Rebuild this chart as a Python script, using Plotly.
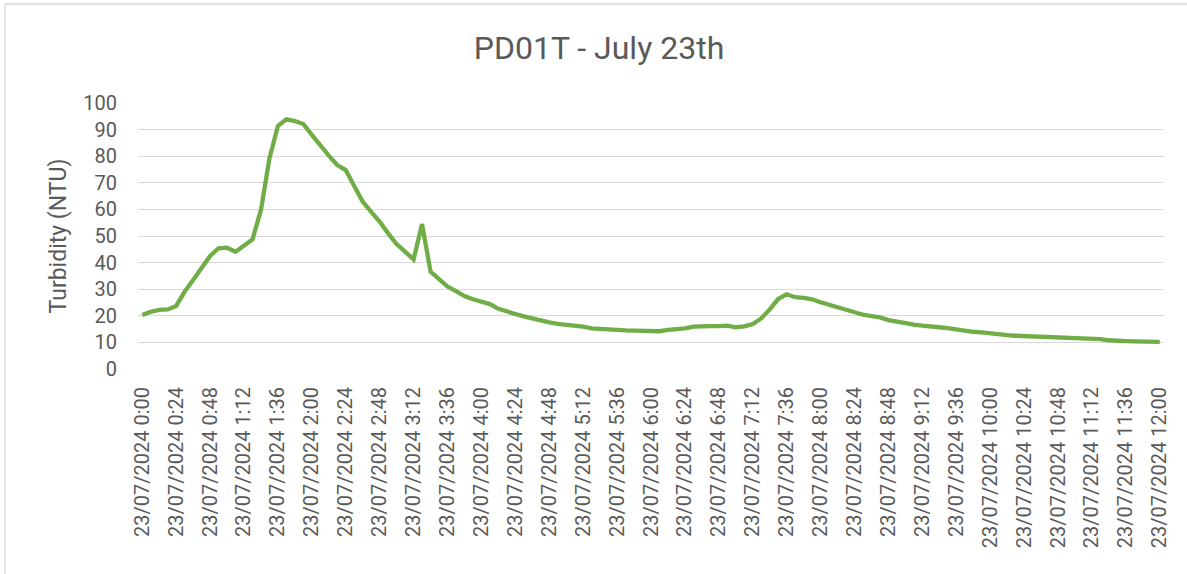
import plotly.graph_objects as go
from datetime import datetime, timedelta

# ---- data ----
start_time = datetime(2024, 7, 23, 0, 0)
step_minutes = 6
turbidity_ntu = [
    20.3, 21.5, 22.2, 22.4, 23.7, 29.1, 33.5, 38.1, 42.5, 45.4,
    45.6, 44.1, 46.4, 48.7, 59.8, 79.2, 91.4, 93.9, 93.2, 92.1,
    88.0, 83.8, 80.2, 76.7, 74.8, 68.8, 62.9, 59.1, 55.4, 51.0,
    47.0, 44.1, 41.2, 54.5, 36.6, 33.8, 31.0, 29.3, 27.4, 26.2,
    25.3, 24.4, 22.6, 21.5, 20.7, 19.8, 18.9, 18.2, 17.5, 17.0,
    16.7, 16.3, 15.9, 15.3, 15.0, 15.0, 14.8, 14.5, 14.4, 14.4,
    14.3, 14.2, 14.7, 14.9, 15.3, 15.9, 16.2, 16.1, 16.1, 16.3,
    15.7, 16.0, 16.9, 19.0, 22.4, 26.3, 28.1, 27.0, 26.7, 26.2,
    25.1, 24.1, 23.4, 22.4, 21.3, 20.4, 19.9, 19.4, 18.4, 17.7,
    17.0, 16.7, 16.3, 15.8, 15.7, 15.4, 14.8, 14.3, 14.0, 13.8,
    13.3, 12.9, 12.7, 12.5, 12.4, 12.3, 12.1, 12.0, 11.8, 11.7,
    11.5, 11.3, 11.2, 11.2, 10.8, 10.5, 10.5, 10.4, 10.3, 10.3,
    10.2,
]


def fmt(t):
    return f"{t.day:02d}/{t.month:02d}/{t.year} {t.hour}:{t.minute:02d}"


categories = [fmt(start_time + timedelta(minutes=step_minutes * i))
              for i in range(len(turbidity_ntu))]
tick_labels = categories[::4]
y_ticks = [0, 10, 20, 30, 40, 50, 60, 70, 80, 90, 100]

title_text = "PD01T - July 23th"
y_title = "Turbidity (NTU)"

# ---- figure ----
FONT = "Roboto"
GREY = "#595959"
W, H = 1187, 574
ML, MR, MT, MB = 138, 23, 103, 205
pw, ph = W - ML - MR, H - MT - MB

fig = go.Figure()
fig.add_trace(go.Scatter(
    x=categories, y=turbidity_ntu, mode="lines",
    line=dict(color="#70AD47", width=4.3),
    showlegend=False,
))

fig.update_layout(
    width=W, height=H,
    margin=dict(l=ML, r=MR, t=MT, b=MB, autoexpand=False),
    paper_bgcolor="white", plot_bgcolor="white",
    title=dict(text=title_text, x=599 / W, xref="container", xanchor="center",
               y=1 - 48 / H, yref="container", yanchor="middle",
               font=dict(family=FONT, size=32, color=GREY)),
    font=dict(family=FONT, color=GREY),
    xaxis=dict(
        type="category", automargin=False,
        tickmode="array", tickvals=tick_labels, ticktext=tick_labels,
        tickangle=-90, tickfont=dict(family=FONT, size=20, color=GREY),
        showgrid=False, zeroline=False, showline=False, ticks="",
        ticklabelstandoff=13,
        range=[-0.5, len(categories) - 0.5],
    ),
    yaxis=dict(
        automargin=False,
        range=[0, 100], tickmode="array", tickvals=y_ticks,
        tickfont=dict(family=FONT, size=20, color=GREY),
        showgrid=True, gridcolor="#D9D9D9", gridwidth=1.3,
        zeroline=False, showline=False, ticks="",
        ticklabelstandoff=20,
        title=dict(text=y_title, font=dict(family=FONT, size=23, color=GREY),
                   standoff=10),
    ),
)

# chart frame (top and left edges visible in the reference)
x_left = (5 - ML) / pw
y_top = (MT + ph - 4) / ph
for x0, y0, x1, y1 in [(x_left, y_top, (W + 20 - ML) / pw, y_top),
                       (x_left, y_top, x_left, -(H + 20 - MT - ph) / ph)]:
    fig.add_shape(type="line", xref="paper", yref="paper",
                  x0=x0, y0=y0, x1=x1, y1=y1,
                  line=dict(color="#D9D9D9", width=1.3), layer="below")

fig.write_html(
    "out.html",
    config={"displayModeBar": False},
    post_script="document.body.style.margin='0';document.body.style.overflow='hidden';",
)
